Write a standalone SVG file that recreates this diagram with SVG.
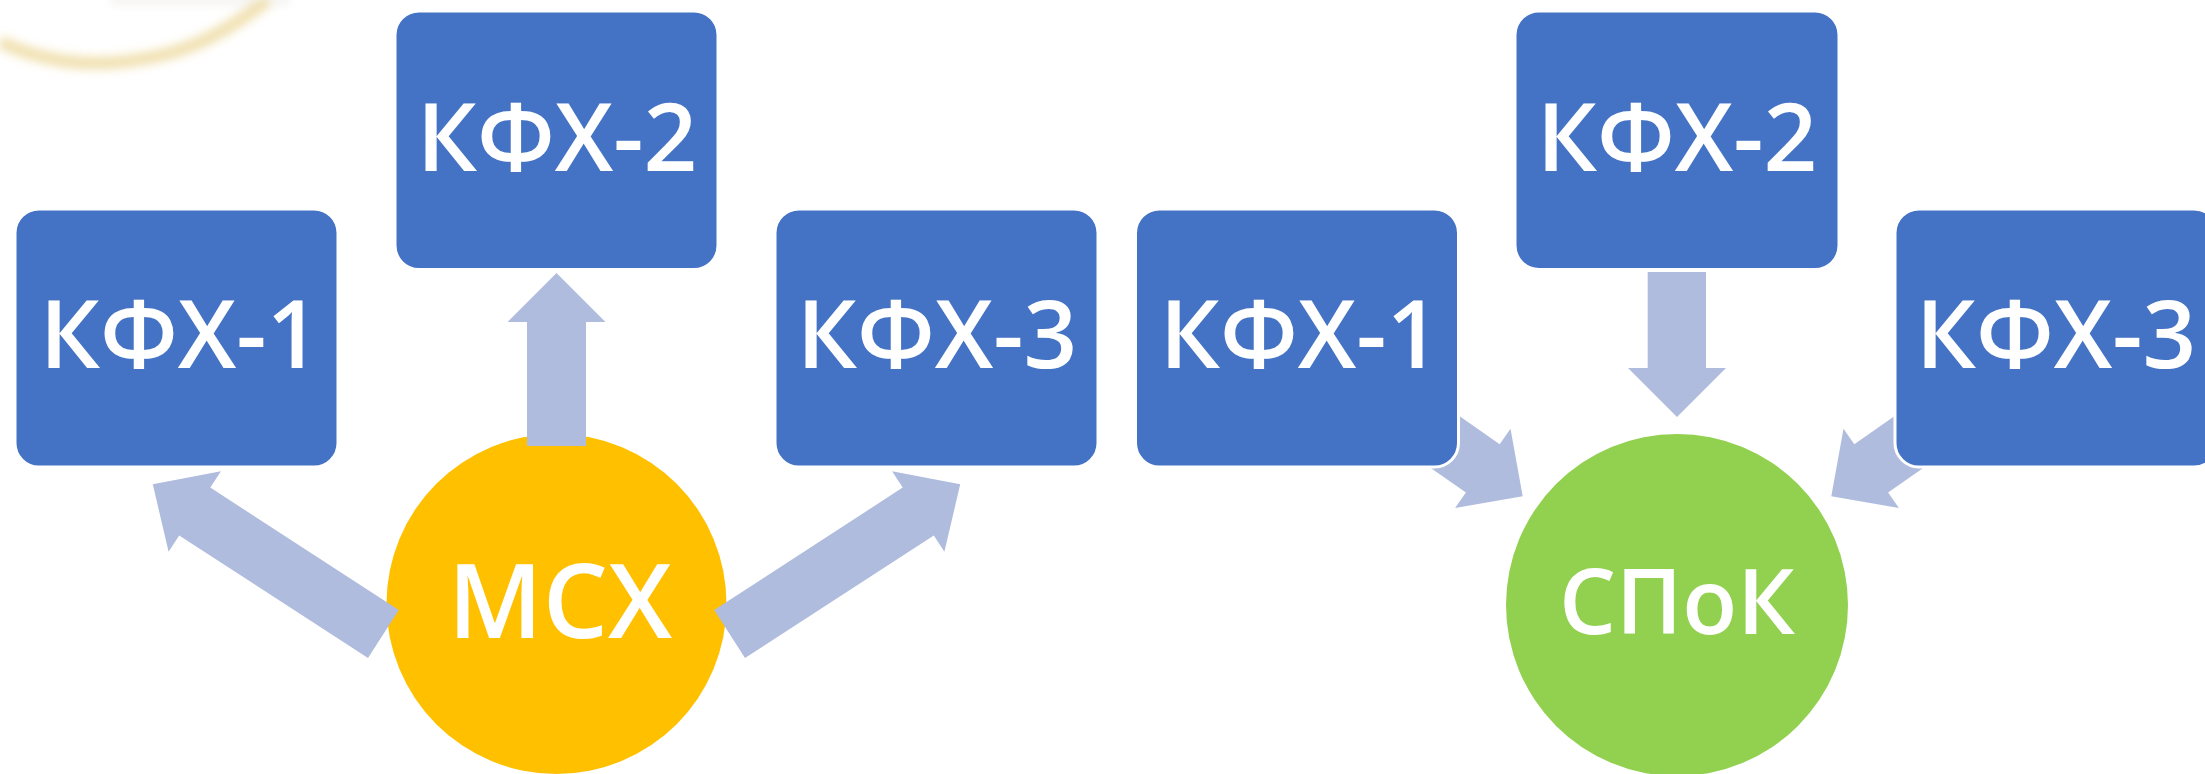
<svg xmlns="http://www.w3.org/2000/svg" width="2205" height="774" viewBox="0 0 2205 774">
<style>
.box{fill:#4472C4;stroke:#FFFFFF;stroke-width:3}
.arr{fill:#AFBCDE}
.lbl{font-family:"Open Sans","Liberation Sans",sans-serif;font-weight:600;fill:#FFFFFF;text-anchor:middle}
.k{font-size:94px}
</style>
<defs>
<filter id="blur" x="-20%" y="-50%" width="140%" height="200%"><feGaussianBlur stdDeviation="5"/></filter>
</defs>
<rect width="2205" height="774" fill="#FFFFFF"/>
<g id="decor" filter="url(#blur)" opacity="0.7">
<path d="M110,0 L290,0" stroke="#E2DEDA" stroke-width="10" fill="none" opacity="0.5"/>
<path d="M0,42 C40,60 80,66 120,62 C180,56 215,40 268,0" stroke="#EBD593" stroke-width="13" fill="none"/>
</g>
<g id="mcx">
<circle cx="556.5" cy="604" r="170" fill="#FFC000"/>
<text class="lbl" x="560" y="638" font-size="103">МСХ</text>
</g>
<g id="spok">
<circle cx="1677" cy="605" r="171" fill="#92D050"/>
<text class="lbl" x="1677" y="634" font-size="90">СПоК</text>
</g>
<g id="connectors">
<polygon class="arr" points="527,446 527,322 507.5,322 556.5,273 605.5,322 586,322 586,446"/>
<polygon class="arr" points="398.8,610 210.3,487.6 220.9,471.2 152.8,484.3 168.6,551.8 179.2,535.4 368,658"/>
<polygon class="arr" points="714.2,610 902.7,487.6 892.1,471.2 960.2,484.3 944.4,551.8 933.8,535.4 745,658"/>
<polygon class="arr" points="1647.7,272 1647.7,368 1628,368 1677,417 1726,368 1706,368 1706,272"/>
<polygon class="arr" points="1385,364 1499.7,444.2 1510.5,428.8 1522.7,496.3 1455.1,508 1465.9,492.6 1351.2,412.4"/>
<polygon class="arr" points="1969,364 1854.3,444.2 1843.5,428.8 1831.3,496.3 1898.9,508 1888.1,492.6 2002.8,412.4"/>
</g>
<g id="l-kfx1">
<rect class="box" x="15" y="209" width="323" height="258" rx="24"/>
<text class="lbl k" x="180" y="368">КФХ-1</text>
</g>
<g id="l-kfx2">
<rect class="box" x="395" y="11" width="323" height="258.5" rx="24"/>
<text class="lbl k" x="557" y="171">КФХ-2</text>
</g>
<g id="l-kfx3">
<rect class="box" x="775" y="209" width="323" height="258" rx="24"/>
<text class="lbl k" x="937" y="368">КФХ-3</text>
</g>
<g id="r-kfx1">
<rect class="box" x="1135.5" y="209" width="323" height="258" rx="24"/>
<text class="lbl k" x="1300" y="368">КФХ-1</text>
</g>
<g id="r-kfx2">
<rect class="box" x="1515" y="11" width="324" height="258.5" rx="24"/>
<text class="lbl k" x="1677" y="171">КФХ-2</text>
</g>
<g id="r-kfx3">
<rect class="box" x="1895" y="209" width="323" height="258" rx="24"/>
<text class="lbl k" x="2056" y="368">КФХ-3</text>
</g>
</svg>
